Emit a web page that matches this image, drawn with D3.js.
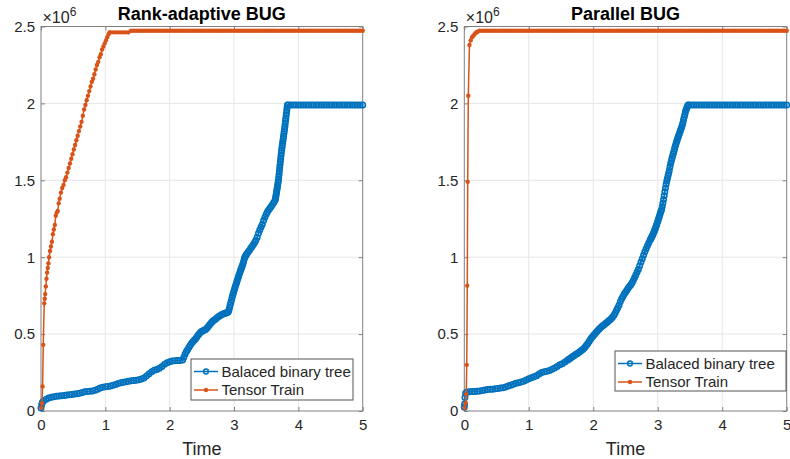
<!DOCTYPE html>
<html>
<head>
<meta charset="utf-8">
<script src="https://cdn.jsdelivr.net/npm/d3@7"></script>
<style>
  html, body { margin: 0; padding: 0; background: #fff; }
  svg { display: block; font-family: "Liberation Sans", Arial, Helvetica, sans-serif; }
</style>
</head>
<body>
<svg id="chart" width="790" height="459"></svg>
<script>
// Number of stored parameters over time, in units of 1e6, as [time, value] pairs.

// Rank-adaptive BUG, balanced binary tree
const bbtRankAdaptive = [
  [0.00,0.020],[0.01,0.040],[0.02,0.055],[0.04,0.065],[0.08,0.077],[0.12,0.084],[0.16,0.089],[0.20,0.093],
  [0.24,0.096],[0.28,0.097],[0.32,0.099],[0.36,0.101],[0.40,0.104],[0.44,0.106],[0.48,0.108],[0.52,0.110],
  [0.56,0.112],[0.60,0.116],[0.64,0.121],[0.68,0.125],[0.72,0.127],[0.76,0.129],[0.80,0.130],[0.84,0.135],
  [0.88,0.142],[0.92,0.150],[0.96,0.155],[1.00,0.158],[1.04,0.160],[1.08,0.163],[1.12,0.167],[1.16,0.172],
  [1.20,0.178],[1.24,0.184],[1.28,0.187],[1.32,0.190],[1.36,0.193],[1.40,0.196],[1.44,0.199],[1.48,0.200],
  [1.52,0.203],[1.56,0.208],[1.60,0.215],[1.64,0.228],[1.68,0.242],[1.72,0.255],[1.76,0.265],[1.80,0.270],
  [1.84,0.278],[1.88,0.290],[1.92,0.304],[1.96,0.313],[2.00,0.320],[2.04,0.325],[2.08,0.327],[2.12,0.328],
  [2.16,0.328],[2.20,0.332],[2.22,0.350],[2.24,0.370],[2.26,0.387],[2.28,0.400],[2.30,0.415],[2.32,0.428],
  [2.34,0.440],[2.36,0.450],[2.38,0.460],[2.40,0.468],[2.42,0.480],[2.44,0.492],[2.46,0.503],[2.48,0.512],
  [2.50,0.518],[2.52,0.522],[2.54,0.526],[2.56,0.530],[2.58,0.540],[2.60,0.550],[2.62,0.560],[2.64,0.570],
  [2.66,0.580],[2.68,0.588],[2.70,0.594],[2.72,0.600],[2.74,0.608],[2.76,0.615],[2.78,0.620],[2.80,0.625],
  [2.82,0.629],[2.84,0.632],[2.86,0.635],[2.88,0.638],[2.89,0.640],[2.90,0.642],[2.91,0.646],[2.92,0.655],
  [2.93,0.672],[2.94,0.690],[2.95,0.705],[2.96,0.720],[2.97,0.738],[2.98,0.755],[2.99,0.768],[3.00,0.782],
  [3.01,0.796],[3.02,0.810],[3.03,0.822],[3.04,0.835],[3.05,0.849],[3.06,0.862],[3.07,0.875],[3.08,0.888],
  [3.09,0.900],[3.10,0.912],[3.11,0.924],[3.12,0.935],[3.13,0.946],[3.14,0.958],[3.15,0.974],[3.16,0.990],
  [3.17,1.002],[3.18,1.010],[3.19,1.016],[3.20,1.022],[3.22,1.034],[3.24,1.046],[3.26,1.058],[3.28,1.070],
  [3.30,1.082],[3.32,1.096],[3.34,1.110],[3.36,1.130],[3.38,1.155],[3.40,1.177],[3.42,1.196],[3.44,1.215],
  [3.46,1.238],[3.48,1.260],[3.50,1.280],[3.52,1.295],[3.54,1.308],[3.56,1.320],[3.58,1.332],[3.60,1.345],
  [3.62,1.358],[3.640,1.372],[3.645,1.383],[3.650,1.395],[3.655,1.408],[3.660,1.420],[3.665,1.433],[3.670,1.447],
  [3.675,1.460],[3.680,1.473],[3.685,1.487],[3.690,1.500],[3.695,1.520],[3.700,1.540],[3.705,1.560],[3.710,1.580],
  [3.715,1.600],[3.720,1.620],[3.725,1.640],[3.730,1.660],[3.735,1.678],[3.740,1.697],[3.745,1.712],[3.750,1.727],
  [3.755,1.742],[3.760,1.757],[3.765,1.772],[3.770,1.787],[3.775,1.803],[3.780,1.818],[3.785,1.833],[3.790,1.848],
  [3.795,1.866],[3.800,1.885],[3.805,1.902],[3.810,1.920],[3.815,1.937],[3.820,1.955],[3.825,1.972],[3.830,1.990],
  [3.84,1.990],[3.88,1.990],[3.92,1.990],[3.96,1.990],[4.00,1.990],[4.04,1.990],[4.08,1.990],[4.12,1.990],
  [4.16,1.990],[4.20,1.990],[4.24,1.990],[4.28,1.990],[4.32,1.990],[4.36,1.990],[4.40,1.990],[4.44,1.990],
  [4.48,1.990],[4.52,1.990],[4.56,1.990],[4.60,1.990],[4.64,1.990],[4.68,1.990],[4.72,1.990],[4.76,1.990],
  [4.80,1.990],[4.84,1.990],[4.88,1.990],[4.92,1.990],[4.96,1.990],[5.00,1.990]
];

// Rank-adaptive BUG, tensor train
const ttRankAdaptive = [
  [0.005,0.020],[0.015,0.050],[0.025,0.160],[0.035,0.430],[0.050,0.700],[0.058,0.730],[0.065,0.760],[0.075,0.810],
  [0.085,0.860],[0.095,0.900],[0.105,0.930],[0.115,0.960],[0.125,1.000],[0.140,1.040],[0.155,1.070],[0.170,1.100],
  [0.185,1.150],[0.200,1.180],[0.215,1.210],[0.230,1.270],[0.245,1.290],[0.260,1.300],[0.275,1.350],[0.290,1.380],
  [0.310,1.420],[0.330,1.450],[0.350,1.470],[0.370,1.500],[0.390,1.520],[0.410,1.550],[0.430,1.580],[0.450,1.610],
  [0.470,1.640],[0.490,1.670],[0.510,1.700],[0.530,1.730],[0.550,1.760],[0.570,1.790],[0.590,1.820],[0.610,1.850],
  [0.630,1.880],[0.650,1.920],[0.670,1.960],[0.690,1.990],[0.710,2.020],[0.730,2.050],[0.750,2.080],[0.770,2.110],
  [0.790,2.140],[0.810,2.160],[0.830,2.190],[0.850,2.220],[0.870,2.250],[0.890,2.270],[0.910,2.300],[0.930,2.320],
  [0.950,2.350],[0.970,2.370],[0.990,2.390],[1.010,2.410],[1.030,2.430],[1.050,2.450],[1.065,2.462],
  [1.08,2.462],[1.12,2.462],[1.16,2.462],[1.20,2.462],[1.24,2.462],[1.28,2.462],[1.32,2.462],[1.36,2.462],
  [1.40,2.472],[1.44,2.472],[1.48,2.472],[1.52,2.472],[1.56,2.472],[1.60,2.472],[1.64,2.472],[1.68,2.472],
  [1.72,2.472],[1.76,2.472],[1.80,2.472],[1.84,2.472],[1.88,2.472],[1.92,2.472],[1.96,2.472],[2.00,2.472],
  [2.04,2.472],[2.08,2.472],[2.12,2.472],[2.16,2.472],[2.20,2.472],[2.24,2.472],[2.28,2.472],[2.32,2.472],
  [2.36,2.472],[2.40,2.472],[2.44,2.472],[2.48,2.472],[2.52,2.472],[2.56,2.472],[2.60,2.472],[2.64,2.472],
  [2.68,2.472],[2.72,2.472],[2.76,2.472],[2.80,2.472],[2.84,2.472],[2.88,2.472],[2.92,2.472],[2.96,2.472],
  [3.00,2.472],[3.04,2.472],[3.08,2.472],[3.12,2.472],[3.16,2.472],[3.20,2.472],[3.24,2.472],[3.28,2.472],
  [3.32,2.472],[3.36,2.472],[3.40,2.472],[3.44,2.472],[3.48,2.472],[3.52,2.472],[3.56,2.472],[3.60,2.472],
  [3.64,2.472],[3.68,2.472],[3.72,2.472],[3.76,2.472],[3.80,2.472],[3.84,2.472],[3.88,2.472],[3.92,2.472],
  [3.96,2.472],[4.00,2.472],[4.04,2.472],[4.08,2.472],[4.12,2.472],[4.16,2.472],[4.20,2.472],[4.24,2.472],
  [4.28,2.472],[4.32,2.472],[4.36,2.472],[4.40,2.472],[4.44,2.472],[4.48,2.472],[4.52,2.472],[4.56,2.472],
  [4.60,2.472],[4.64,2.472],[4.68,2.472],[4.72,2.472],[4.76,2.472],[4.80,2.472],[4.84,2.472],[4.88,2.472],
  [4.92,2.472],[4.96,2.472],[5.00,2.472]
];

// Parallel BUG, balanced binary tree
const bbtParallel = [
  [0.000,0.025],[0.005,0.045],[0.010,0.087],[0.020,0.115],[0.040,0.124],[0.08,0.125],[0.12,0.126],[0.16,0.127],
  [0.20,0.128],[0.24,0.130],[0.28,0.133],[0.32,0.136],[0.36,0.139],[0.40,0.141],[0.44,0.142],[0.48,0.144],
  [0.52,0.146],[0.56,0.149],[0.60,0.151],[0.64,0.156],[0.68,0.162],[0.72,0.168],[0.76,0.174],[0.80,0.180],
  [0.84,0.184],[0.88,0.188],[0.92,0.194],[0.96,0.202],[1.00,0.210],[1.04,0.216],[1.08,0.222],[1.12,0.230],
  [1.16,0.240],[1.20,0.250],[1.24,0.255],[1.28,0.258],[1.32,0.264],[1.36,0.272],[1.40,0.280],[1.44,0.290],
  [1.48,0.300],[1.52,0.308],[1.56,0.318],[1.60,0.330],[1.62,0.336],[1.64,0.342],[1.66,0.348],[1.68,0.354],
  [1.70,0.360],[1.72,0.365],[1.74,0.370],[1.76,0.376],[1.78,0.382],[1.80,0.388],[1.82,0.395],[1.84,0.402],
  [1.86,0.410],[1.88,0.420],[1.90,0.430],[1.92,0.442],[1.94,0.455],[1.96,0.468],[1.98,0.480],[2.00,0.490],
  [2.02,0.499],[2.04,0.508],[2.06,0.518],[2.08,0.528],[2.10,0.537],[2.12,0.545],[2.14,0.552],[2.16,0.558],
  [2.18,0.565],[2.20,0.572],[2.22,0.579],[2.24,0.586],[2.26,0.594],[2.28,0.602],[2.30,0.611],[2.32,0.622],
  [2.34,0.637],[2.36,0.655],[2.38,0.672],[2.40,0.690],[2.42,0.712],[2.44,0.730],[2.46,0.745],[2.48,0.760],
  [2.50,0.772],[2.52,0.785],[2.54,0.798],[2.56,0.810],[2.58,0.820],[2.60,0.832],[2.62,0.848],[2.64,0.866],
  [2.66,0.884],[2.68,0.903],[2.70,0.922],[2.72,0.945],[2.74,0.968],[2.76,0.990],[2.78,1.012],[2.80,1.035],
  [2.82,1.055],[2.84,1.075],[2.86,1.093],[2.88,1.110],[2.89,1.118],[2.90,1.126],[2.91,1.134],[2.92,1.143],
  [2.93,1.152],[2.94,1.162],[2.95,1.173],[2.96,1.184],[2.97,1.196],[2.98,1.208],[2.99,1.220],[3.00,1.233],
  [3.01,1.246],[3.02,1.259],[3.03,1.272],[3.04,1.285],[3.05,1.298],[3.06,1.310],[3.07,1.330],[3.08,1.352],
  [3.09,1.375],[3.10,1.400],[3.11,1.425],[3.12,1.450],[3.13,1.475],[3.14,1.495],[3.15,1.512],[3.16,1.530],
  [3.17,1.548],[3.18,1.566],[3.19,1.588],[3.20,1.610],[3.21,1.626],[3.22,1.642],[3.23,1.658],[3.24,1.673],
  [3.25,1.688],[3.26,1.704],[3.27,1.720],[3.28,1.734],[3.29,1.748],[3.30,1.761],[3.31,1.773],[3.32,1.785],
  [3.33,1.797],[3.34,1.809],[3.35,1.821],[3.36,1.833],[3.37,1.845],[3.38,1.858],[3.39,1.875],[3.40,1.893],
  [3.41,1.910],[3.42,1.928],[3.43,1.945],[3.44,1.958],[3.45,1.970],[3.46,1.980],[3.47,1.990],
  [3.48,1.990],[3.52,1.990],[3.56,1.990],[3.60,1.990],[3.64,1.990],[3.68,1.990],[3.72,1.990],[3.76,1.990],
  [3.80,1.990],[3.84,1.990],[3.88,1.990],[3.92,1.990],[3.96,1.990],[4.00,1.990],[4.04,1.990],[4.08,1.990],
  [4.12,1.990],[4.16,1.990],[4.20,1.990],[4.24,1.990],[4.28,1.990],[4.32,1.990],[4.36,1.990],[4.40,1.990],
  [4.44,1.990],[4.48,1.990],[4.52,1.990],[4.56,1.990],[4.60,1.990],[4.64,1.990],[4.68,1.990],[4.72,1.990],
  [4.76,1.990],[4.80,1.990],[4.84,1.990],[4.88,1.990],[4.92,1.990],[4.96,1.990],[5.00,1.990]
];

// Parallel BUG, tensor train
const ttParallel = [
  [0.005,0.020],[0.020,0.050],[0.030,0.110],[0.038,0.300],[0.046,0.815],[0.053,1.490],[0.062,2.050],[0.080,2.380],
  [0.100,2.410],[0.120,2.430],[0.140,2.440],[0.160,2.450],[0.180,2.460],[0.200,2.465],[0.220,2.470],
  [0.24,2.472],[0.28,2.472],[0.32,2.472],[0.36,2.472],[0.40,2.472],[0.44,2.472],[0.48,2.472],[0.52,2.472],
  [0.56,2.472],[0.60,2.472],[0.64,2.472],[0.68,2.472],[0.72,2.472],[0.76,2.472],[0.80,2.472],[0.84,2.472],
  [0.88,2.472],[0.92,2.472],[0.96,2.472],[1.00,2.472],[1.04,2.472],[1.08,2.472],[1.12,2.472],[1.16,2.472],
  [1.20,2.472],[1.24,2.472],[1.28,2.472],[1.32,2.472],[1.36,2.472],[1.40,2.472],[1.44,2.472],[1.48,2.472],
  [1.52,2.472],[1.56,2.472],[1.60,2.472],[1.64,2.472],[1.68,2.472],[1.72,2.472],[1.76,2.472],[1.80,2.472],
  [1.84,2.472],[1.88,2.472],[1.92,2.472],[1.96,2.472],[2.00,2.472],[2.04,2.472],[2.08,2.472],[2.12,2.472],
  [2.16,2.472],[2.20,2.472],[2.24,2.472],[2.28,2.472],[2.32,2.472],[2.36,2.472],[2.40,2.472],[2.44,2.472],
  [2.48,2.472],[2.52,2.472],[2.56,2.472],[2.60,2.472],[2.64,2.472],[2.68,2.472],[2.72,2.472],[2.76,2.472],
  [2.80,2.472],[2.84,2.472],[2.88,2.472],[2.92,2.472],[2.96,2.472],[3.00,2.472],[3.04,2.472],[3.08,2.472],
  [3.12,2.472],[3.16,2.472],[3.20,2.472],[3.24,2.472],[3.28,2.472],[3.32,2.472],[3.36,2.472],[3.40,2.472],
  [3.44,2.472],[3.48,2.472],[3.52,2.472],[3.56,2.472],[3.60,2.472],[3.64,2.472],[3.68,2.472],[3.72,2.472],
  [3.76,2.472],[3.80,2.472],[3.84,2.472],[3.88,2.472],[3.92,2.472],[3.96,2.472],[4.00,2.472],[4.04,2.472],
  [4.08,2.472],[4.12,2.472],[4.16,2.472],[4.20,2.472],[4.24,2.472],[4.28,2.472],[4.32,2.472],[4.36,2.472],
  [4.40,2.472],[4.44,2.472],[4.48,2.472],[4.52,2.472],[4.56,2.472],[4.60,2.472],[4.64,2.472],[4.68,2.472],
  [4.72,2.472],[4.76,2.472],[4.80,2.472],[4.84,2.472],[4.88,2.472],[4.92,2.472],[4.96,2.472],[5.00,2.472]
];

const panelTitles = ["Rank-adaptive BUG", "Parallel BUG"];
const seriesNames = ["Balaced binary tree", "Tensor Train"];
const xTicks = [0, 1, 2, 3, 4, 5];
const yTicks = [0, 0.5, 1, 1.5, 2, 2.5];
const xLabel = "Time";
const yExponent = "6";

const COLORS = ["#0072BD", "#D95319"];
const TEXT = "#262626";
const AXIS = "#808080";
const GRID = "#e6e6e6";

const svg = d3.select("#chart");

const plotTop = 26.5, plotBottom = 411;
const panels = [
  { title: panelTitles[0], x0: 41, x1: 362.7, series: [bbtRankAdaptive, ttRankAdaptive],
    legend: { x: 191, y: 359, w: 162, h: 41 } },
  { title: panelTitles[1], x0: 464.3, x1: 786.7, series: [bbtParallel, ttParallel],
    legend: { x: 615, y: 351, w: 171, h: 40 } }
];

// marker styles
const ringR = 2.7, ringW = 1.6, dotR = 2.2;

panels.forEach(p => {
  const x = d3.scaleLinear().domain([0, 5]).range([p.x0, p.x1]);
  const y = d3.scaleLinear().domain([0, 2.5]).range([plotBottom, plotTop]);
  const g = svg.append("g");

  // grid
  g.append("g").selectAll("line").data(xTicks.slice(1, -1)).join("line")
    .attr("x1", d => x(d)).attr("x2", d => x(d))
    .attr("y1", plotTop).attr("y2", plotBottom)
    .attr("stroke", GRID).attr("stroke-width", 1);
  g.append("g").selectAll("line").data(yTicks.slice(1, -1)).join("line")
    .attr("x1", p.x0).attr("x2", p.x1)
    .attr("y1", d => y(d)).attr("y2", d => y(d))
    .attr("stroke", GRID).attr("stroke-width", 1);

  // axes with inward ticks on all four sides
  const fmt = d3.format("~g");
  const styleAxis = sel => {
    sel.attr("font-family", null).attr("font-size", null);
    sel.select(".domain").remove();
    sel.selectAll(".tick line").attr("stroke", AXIS);
    sel.selectAll(".tick text").attr("fill", TEXT).style("font-size", "15px");
  };
  g.append("g").attr("transform", `translate(0,${plotBottom})`)
    .call(d3.axisBottom(x).tickValues(xTicks).tickFormat(fmt).tickSize(-4).tickPadding(8))
    .call(styleAxis);
  g.append("g").attr("transform", `translate(0,${plotTop})`)
    .call(d3.axisTop(x).tickValues(xTicks).tickFormat("").tickSize(-4))
    .call(styleAxis);
  g.append("g").attr("transform", `translate(${p.x0},0)`)
    .call(d3.axisLeft(y).tickValues(yTicks).tickFormat(fmt).tickSize(-4).tickPadding(6))
    .call(styleAxis);
  g.append("g").attr("transform", `translate(${p.x1},0)`)
    .call(d3.axisRight(y).tickValues(yTicks).tickFormat("").tickSize(-4))
    .call(styleAxis);

  g.append("rect")
    .attr("x", p.x0).attr("y", plotTop)
    .attr("width", p.x1 - p.x0).attr("height", plotBottom - plotTop)
    .attr("fill", "none").attr("stroke", AXIS).attr("stroke-width", 1);

  // exponent label
  const ex = g.append("text")
    .attr("x", p.x0 + 1.5).attr("y", 23)
    .attr("fill", TEXT).style("font-size", "16px");
  ex.append("tspan").text("\u00d710");
  ex.append("tspan").attr("dy", -7).style("font-size", "12px").text(yExponent);

  // title
  g.append("text")
    .attr("x", (p.x0 + p.x1) / 2).attr("y", 19.5)
    .attr("text-anchor", "middle")
    .attr("fill", "#000").style("font-size", "18px").style("font-weight", "bold")
    .text(p.title);

  // x label
  g.append("text")
    .attr("x", (p.x0 + p.x1) / 2).attr("y", 454.5)
    .attr("text-anchor", "middle")
    .attr("fill", TEXT).style("font-size", "18px")
    .text(xLabel);

  const line = d3.line().x(d => x(d[0])).y(d => y(d[1]));

  // balanced binary tree: line with open circles
  const bbt = p.series[0];
  g.append("path").datum(bbt).attr("d", line)
    .attr("fill", "none").attr("stroke", COLORS[0]).attr("stroke-width", 1.5);
  g.append("g").selectAll("circle").data(bbt).join("circle")
    .attr("cx", d => x(d[0])).attr("cy", d => y(d[1])).attr("r", ringR)
    .attr("fill", "none").attr("stroke", COLORS[0]).attr("stroke-width", ringW);

  // tensor train: line with filled dots
  const tt = p.series[1];
  g.append("path").datum(tt).attr("d", line)
    .attr("fill", "none").attr("stroke", COLORS[1]).attr("stroke-width", 1.5);
  g.append("g").selectAll("circle").data(tt).join("circle")
    .attr("cx", d => x(d[0])).attr("cy", d => y(d[1])).attr("r", dotR)
    .attr("fill", COLORS[1]);

  // legend
  const L = p.legend;
  const lg = g.append("g");
  lg.append("rect").attr("x", L.x).attr("y", L.y).attr("width", L.w).attr("height", L.h)
    .attr("fill", "#fff").attr("stroke", "#555").attr("stroke-width", 1);
  seriesNames.forEach((name, i) => {
    const ry = L.y + (i === 0 ? 12.5 : 31);
    lg.append("line").attr("x1", L.x + 3).attr("x2", L.x + 27).attr("y1", ry).attr("y2", ry)
      .attr("stroke", COLORS[i]).attr("stroke-width", 1.5);
    if (i === 0) {
      lg.append("circle").attr("cx", L.x + 15).attr("cy", ry).attr("r", 2.4)
        .attr("fill", "none").attr("stroke", COLORS[i]).attr("stroke-width", 1.5);
    } else {
      lg.append("circle").attr("cx", L.x + 15).attr("cy", ry).attr("r", dotR)
        .attr("fill", COLORS[i]);
    }
    lg.append("text").attr("x", L.x + 30.5).attr("y", ry).attr("dy", "0.35em")
      .attr("fill", TEXT).style("font-size", "15px").text(name);
  });
});
</script>
</body>
</html>
